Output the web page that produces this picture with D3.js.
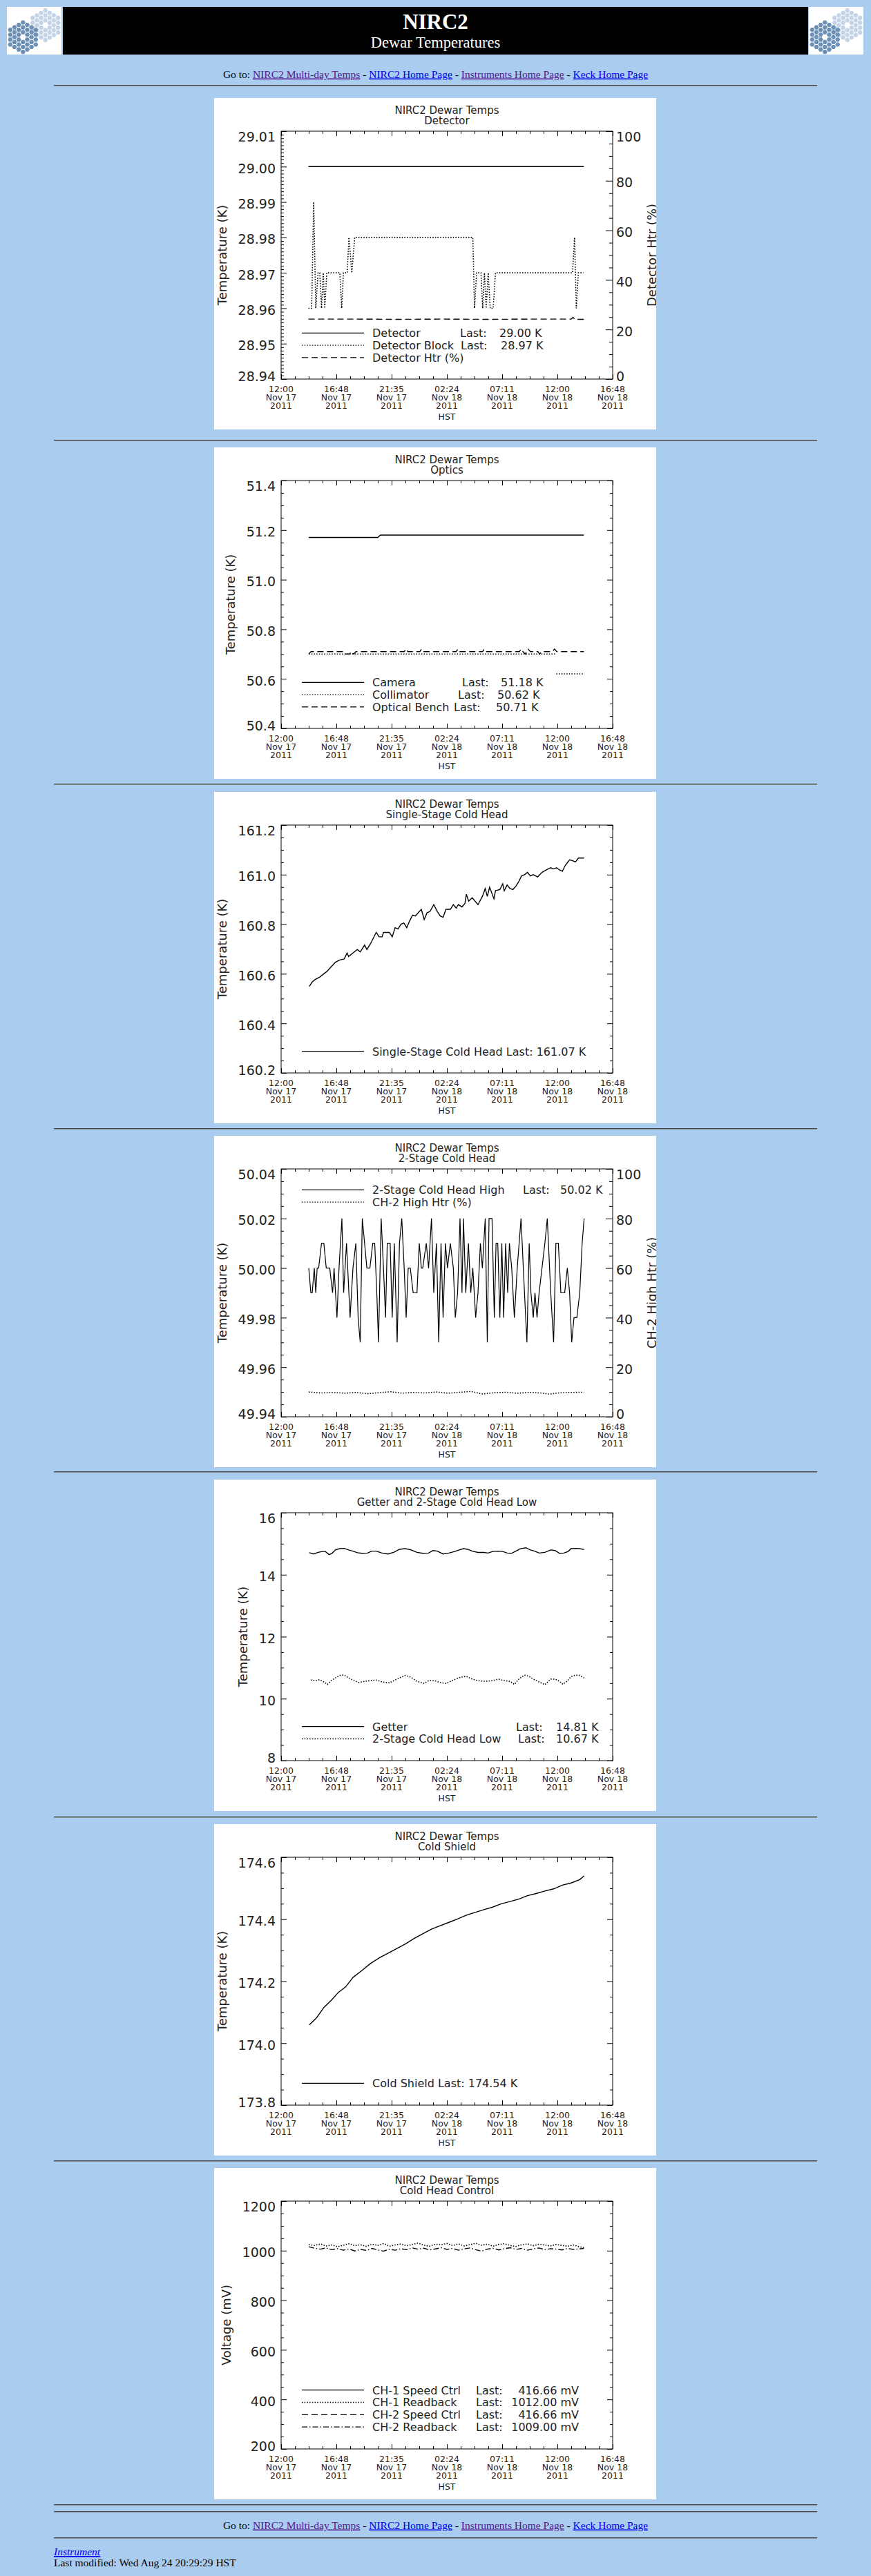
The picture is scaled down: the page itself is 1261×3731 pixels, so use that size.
<!DOCTYPE html>
<html>
<head>
<meta charset="utf-8">
<title>NIRC2 Dewar Temperatures</title>
<script src="https://d3js.org/d3.v7.min.js"></script>
<style>
body { margin: 0; background: #a9ccef; }
svg { display: block; }
.serif { font-family: "Liberation Serif", "Times New Roman", serif; }
.plot text { font-family: "DejaVu Sans", sans-serif; fill: #222; }
</style>
</head>
<body>
<svg id="page" width="1261" height="3731"></svg>
<script>
// every time value below is hours after 12:00 Nov 17 2011 HST (left edge of the time axes)
const START = new Date(2011, 10, 17, 12, 0, 0);
const at = h => new Date(START.getTime() + h * 3600 * 1000);

const timeTicks = [0, 4.8, 9.6, 14.4, 19.2, 24, 28.8];
const timeLabels = [
    ['12:00', 'Nov 17', '2011'], ['16:48', 'Nov 17', '2011'], ['21:35', 'Nov 17', '2011'],
    ['02:24', 'Nov 18', '2011'], ['07:11', 'Nov 18', '2011'], ['12:00', 'Nov 18', '2011'],
    ['16:48', 'Nov 18', '2011']];

const detectorTicks = [28.94, 28.95, 28.96, 28.97, 28.98, 28.99, 29.00, 29.01];
const heaterTicks = [0, 20, 40, 60, 80, 100];
const opticsTicks = [50.4, 50.6, 50.8, 51.0, 51.2, 51.4];
const singleStageTicks = [160.2, 160.4, 160.6, 160.8, 161.0, 161.2];
const twoStageTicks = [49.94, 49.96, 49.98, 50.00, 50.02, 50.04];
const getterTicks = [8, 10, 12, 14, 16];
const shieldTicks = [173.8, 174.0, 174.2, 174.4, 174.6];
const voltageTicks = [200, 400, 600, 800, 1000, 1200];

// series are [hour, value]
const detector = [[2.37, 29.00], [26.30, 29.00]];
const detectorBlock = [
    [2.37, 28.96], [2.65, 28.96], [2.83, 28.99], [3.01, 28.96], [3.21, 28.97], [3.36, 28.97],
    [3.51, 28.96], [3.66, 28.97], [3.79, 28.96], [3.97, 28.97], [5.10, 28.97], [5.26, 28.96],
    [5.41, 28.97], [5.74, 28.97], [5.89, 28.98], [6.14, 28.97], [6.39, 28.98], [16.65, 28.98],
    [16.80, 28.96], [16.98, 28.97], [17.36, 28.97], [17.51, 28.96], [17.66, 28.97], [17.81, 28.96],
    [17.99, 28.97], [18.16, 28.96], [18.42, 28.96], [18.62, 28.97], [25.31, 28.97], [25.49, 28.98],
    [25.64, 28.96], [25.82, 28.97], [26.25, 28.97]];
const detectorHtr = [
    [2.37, 24.2], [6.0, 24.2], [10.0, 24.1], [14.0, 24.2], [18.0, 24.1], [22.0, 24.2],
    [25.2, 24.2], [25.35, 24.9], [25.5, 24.1], [26.3, 24.1]];

const camera = [[2.40, 51.17], [8.40, 51.17], [8.62, 51.18], [26.30, 51.18]];
const collimator = [[2.40, 50.70], [23.80, 50.70], [23.85, null], [23.90, 50.62], [26.30, 50.62]];
const opticalBench = [
    [2.40, 50.70], [2.60, 50.71], [5.40, 50.71], [5.55, 50.70], [5.95, 50.70], [6.10, 50.71],
    [6.30, 50.70], [6.50, 50.71], [10.70, 50.71], [10.85, 50.72], [11.00, 50.71], [12.05, 50.71],
    [12.20, 50.72], [12.35, 50.71], [15.20, 50.71], [15.35, 50.72], [15.50, 50.71], [17.50, 50.71],
    [17.65, 50.72], [17.85, 50.71], [20.70, 50.71], [20.85, 50.72], [21.00, 50.71], [21.20, 50.70],
    [21.45, 50.72], [21.65, 50.71], [22.30, 50.71], [22.45, 50.70], [22.65, 50.71], [23.55, 50.71],
    [23.75, 50.72], [23.95, 50.71], [26.30, 50.71]];

const singleStage = [
    [2.45, 160.549], [2.70, 160.567], [2.96, 160.577], [3.33, 160.586], [3.71, 160.600],
    [3.97, 160.609], [4.35, 160.628], [4.72, 160.647], [5.10, 160.656], [5.48, 160.660],
    [5.73, 160.684], [5.86, 160.670], [6.24, 160.684], [6.62, 160.698], [6.87, 160.688],
    [7.25, 160.716], [7.45, 160.698], [7.76, 160.721], [8.01, 160.744], [8.26, 160.767],
    [8.51, 160.749], [8.77, 160.749], [8.89, 160.767], [9.40, 160.767], [9.65, 160.749],
    [9.90, 160.786], [10.16, 160.781], [10.41, 160.800], [10.66, 160.805], [10.91, 160.786],
    [11.17, 160.814], [11.42, 160.837], [11.67, 160.833], [11.92, 160.847], [12.18, 160.860],
    [12.43, 160.819], [12.68, 160.847], [12.93, 160.851], [13.26, 160.879], [13.57, 160.851],
    [13.82, 160.833], [14.07, 160.828], [14.32, 160.860], [14.70, 160.860], [14.96, 160.879],
    [15.21, 160.865], [15.39, 160.879], [15.71, 160.870], [15.97, 160.884], [16.09, 160.921],
    [16.29, 160.893], [16.60, 160.907], [17.10, 160.879], [17.48, 160.912], [17.73, 160.944],
    [17.91, 160.912], [18.11, 160.949], [18.49, 160.902], [18.62, 160.935], [19.00, 160.940],
    [19.25, 160.963], [19.38, 160.935], [19.63, 160.958], [19.88, 160.944], [20.13, 160.940],
    [20.39, 160.953], [20.64, 160.972], [20.89, 160.995], [21.14, 161.000], [21.40, 161.009],
    [21.65, 160.995], [21.90, 161.000], [22.28, 160.991], [22.66, 161.009], [23.04, 161.019],
    [23.42, 161.028], [23.67, 161.023], [23.92, 161.028], [24.18, 161.019], [24.43, 161.014],
    [24.68, 161.037], [25.06, 161.060], [25.31, 161.056], [25.57, 161.051], [25.82, 161.067],
    [26.32, 161.067]];

const twoStageHigh = [
    [2.40, 50.00], [2.58, 49.99], [2.70, 49.99], [2.88, 50.00], [3.01, 49.99], [3.13, 50.00],
    [3.26, 50.00], [3.51, 50.01], [3.71, 50.01], [3.92, 50.00], [4.22, 50.00], [4.47, 49.99],
    [4.60, 50.00], [4.85, 49.98], [5.03, 50.00], [5.28, 50.02], [5.43, 49.99], [5.68, 50.01],
    [5.99, 49.98], [6.24, 50.00], [6.49, 50.01], [6.69, 49.98], [6.87, 49.97], [7.05, 50.02],
    [7.25, 50.01], [7.45, 50.00], [7.71, 50.00], [7.96, 50.01], [8.13, 50.01], [8.31, 49.99],
    [8.46, 49.97], [8.69, 50.02], [8.89, 50.00], [9.07, 49.98], [9.22, 50.01], [9.47, 50.01],
    [9.65, 49.98], [9.83, 50.01], [10.08, 49.97], [10.28, 50.01], [10.48, 50.02], [10.69, 50.00],
    [10.86, 49.98], [11.04, 50.00], [11.22, 50.00], [11.47, 49.99], [11.62, 49.99], [11.80, 49.99],
    [12.00, 50.01], [12.18, 50.00], [12.30, 50.00], [12.61, 50.01], [12.81, 50.00], [13.06, 50.02],
    [13.26, 49.99], [13.49, 50.01], [13.69, 49.97], [13.89, 50.01], [14.07, 49.98], [14.27, 50.01],
    [14.45, 50.00], [14.70, 50.01], [14.96, 50.00], [15.13, 49.98], [15.33, 49.99], [15.54, 50.02],
    [15.71, 49.99], [15.84, 50.02], [16.04, 49.99], [16.27, 50.01], [16.47, 49.99], [16.65, 50.00],
    [16.90, 49.98], [17.10, 49.99], [17.31, 50.01], [17.48, 50.00], [17.73, 50.02], [17.91, 49.97],
    [18.06, 50.02], [18.32, 50.02], [18.52, 49.98], [18.67, 50.01], [18.82, 50.01], [19.00, 49.98],
    [19.17, 50.01], [19.33, 49.98], [19.50, 50.01], [19.68, 49.99], [19.83, 50.01], [20.03, 50.00],
    [20.26, 49.98], [20.51, 50.00], [20.84, 50.02], [21.14, 49.99], [21.35, 49.97], [21.55, 50.01],
    [21.70, 49.99], [21.90, 49.98], [22.05, 49.99], [22.23, 49.98], [22.41, 49.99], [22.66, 50.00],
    [22.91, 50.01], [23.12, 50.02], [23.42, 49.99], [23.67, 49.97], [23.87, 50.01], [24.08, 50.01],
    [24.30, 49.99], [24.63, 49.99], [24.86, 50.00], [25.06, 49.99], [25.24, 49.97], [25.44, 49.98],
    [25.69, 49.98], [25.94, 49.99], [26.15, 50.01], [26.32, 50.02]];
const ch2HighHtr = [
    [2.40, 10.0], [3.50, 9.6], [4.50, 9.8], [5.50, 9.5], [6.50, 9.8], [7.50, 9.3], [8.50, 9.7],
    [9.50, 10.1], [10.50, 9.5], [11.50, 9.8], [12.50, 9.6], [13.50, 10.0], [14.50, 9.5],
    [15.50, 9.9], [16.50, 10.2], [17.50, 9.2], [18.50, 9.7], [19.50, 9.9], [20.50, 9.5],
    [21.50, 9.8], [22.50, 9.6], [23.30, 9.1], [24.00, 9.6], [25.00, 9.8], [26.30, 9.9]];

const getter = [
    [2.45, 14.71], [2.83, 14.67], [3.21, 14.72], [3.59, 14.75], [3.84, 14.75], [4.17, 14.65],
    [4.42, 14.69], [4.72, 14.80], [5.10, 14.84], [5.48, 14.85], [5.86, 14.80], [6.24, 14.76],
    [6.62, 14.71], [7.00, 14.69], [7.50, 14.70], [7.88, 14.76], [8.26, 14.76], [8.77, 14.70],
    [9.27, 14.67], [9.78, 14.72], [10.28, 14.82], [10.79, 14.84], [11.29, 14.80], [11.80, 14.72],
    [12.30, 14.69], [12.81, 14.70], [13.19, 14.78], [13.57, 14.76], [14.07, 14.67], [14.58, 14.70],
    [15.08, 14.75], [15.46, 14.80], [15.84, 14.84], [16.22, 14.82], [16.60, 14.76], [17.10, 14.72],
    [17.61, 14.72], [17.99, 14.70], [18.37, 14.75], [18.87, 14.76], [19.25, 14.75], [19.63, 14.70],
    [20.01, 14.69], [20.39, 14.76], [20.77, 14.84], [21.27, 14.87], [21.65, 14.80], [22.03, 14.76],
    [22.41, 14.70], [22.91, 14.72], [23.42, 14.80], [23.80, 14.78], [24.18, 14.69], [24.56, 14.70],
    [24.93, 14.75], [25.19, 14.84], [25.57, 14.85], [25.94, 14.84], [26.32, 14.81]];
const twoStageLow = [
    [2.58, 10.60], [2.96, 10.58], [3.33, 10.61], [3.71, 10.54], [4.02, 10.46], [4.35, 10.58],
    [4.72, 10.67], [5.10, 10.75], [5.48, 10.76], [5.86, 10.67], [6.24, 10.60], [6.75, 10.52],
    [7.25, 10.56], [7.76, 10.58], [8.26, 10.60], [8.77, 10.54], [9.40, 10.51], [9.90, 10.60],
    [10.41, 10.69], [10.79, 10.75], [11.29, 10.69], [11.80, 10.56], [12.43, 10.49], [12.81, 10.58],
    [13.31, 10.58], [13.82, 10.52], [14.32, 10.49], [14.96, 10.60], [15.59, 10.69], [16.09, 10.72],
    [16.60, 10.63], [17.10, 10.58], [17.73, 10.56], [18.37, 10.58], [18.87, 10.63], [19.38, 10.58],
    [19.88, 10.56], [20.26, 10.46], [20.64, 10.63], [21.14, 10.76], [21.52, 10.72], [21.90, 10.63],
    [22.41, 10.54], [22.91, 10.45], [23.42, 10.63], [23.80, 10.63], [24.18, 10.56], [24.48, 10.46],
    [24.81, 10.56], [25.19, 10.71], [25.57, 10.76], [25.94, 10.75], [26.32, 10.67]];

const coldShield = [
    [2.45, 174.059], [3.08, 174.082], [3.71, 174.115], [4.35, 174.138], [4.98, 174.164],
    [5.61, 174.182], [6.24, 174.212], [7.00, 174.234], [7.76, 174.257], [8.51, 174.275],
    [9.27, 174.290], [10.03, 174.305], [10.79, 174.320], [11.55, 174.338], [12.30, 174.353],
    [13.06, 174.368], [13.82, 174.379], [14.58, 174.390], [15.33, 174.401], [16.09, 174.413],
    [16.85, 174.422], [17.61, 174.431], [18.37, 174.439], [19.12, 174.450], [19.88, 174.457],
    [20.64, 174.465], [21.40, 174.476], [22.16, 174.483], [22.91, 174.491], [23.67, 174.498],
    [24.43, 174.510], [25.19, 174.517], [25.94, 174.528], [26.32, 174.540]];

const controlHours = [
    2.4, 2.9, 3.4, 3.9, 4.4, 4.9, 5.4, 5.9, 6.4, 6.9, 7.4, 7.9, 8.4, 8.9, 9.4, 9.9, 10.4,
    10.9, 11.4, 11.9, 12.4, 12.9, 13.4, 13.9, 14.4, 14.9, 15.4, 15.9, 16.4, 16.9, 17.4, 17.9,
    18.4, 18.9, 19.4, 19.9, 20.4, 20.9, 21.4, 21.9, 22.4, 22.9, 23.4, 23.9, 24.4, 24.9, 25.4,
    25.9, 26.3];
const ch1Readback = [
    1025, 1021, 1027, 1019, 1023, 1016, 1022, 1028, 1020, 1024, 1017, 1026, 1021, 1029, 1018,
    1023, 1027, 1020, 1025, 1031, 1022, 1018, 1026, 1024, 1029, 1021, 1027, 1019, 1024, 1030,
    1022, 1026, 1018, 1025, 1028, 1021, 1017, 1024, 1027, 1020, 1026, 1023, 1019, 1025, 1021,
    1018, 1023, 1016, 1012];
const ch2Readback = [
    1016, 1010, 1006, 1011, 1004, 1008, 1002, 1007, 999, 1005, 1001, 1009, 1003, 998, 1006,
    1002, 1008, 1004, 1011, 1006, 1010, 1003, 1007, 1012, 1005, 1009, 1002, 1007, 1011, 1004,
    998, 1006, 1010, 1003, 1008, 1012, 1005, 1009, 1002, 1007, 1011, 1004, 1008, 1006, 1003,
    1009, 1005, 1007, 1009];

const navLinks = [
    {text: 'NIRC2 Multi-day Temps', visited: true},
    {text: 'NIRC2 Home Page', visited: false},
    {text: 'Instruments Home Page', visited: true},
    {text: 'Keck Home Page', visited: false}];

const dashes = {solid: null, dotted: '1.5,2.2', dashed: '9,5', dashdot: '8,3,1.5,3'};

const panels = [
    {title: 'Detector', yTicks: detectorTicks, yFormat: '.2f', yMinor: 10, yTitle: 'Temperature (K)',
     y2Ticks: heaterTicks, y2Format: 'd', y2Minor: 4, y2Title: 'Detector Htr (%)',
     series: [{data: detector, style: 'solid'}, {data: detectorBlock, style: 'dotted'},
              {data: detectorHtr, style: 'dashed', right: true}],
     legend: {top: 340.3, rows: [
         {name: 'Detector', style: 'solid', last: '29.00 K', lastX: 356, valX: 413},
         {name: 'Detector Block', style: 'dotted', last: '28.97 K', lastX: 357, valX: 415},
         {name: 'Detector Htr (%)', style: 'dashed'}]}},
    {title: 'Optics', yTicks: opticsTicks, yFormat: '.1f', yMinor: 4, yTitle: 'Temperature (K)',
     series: [{data: camera, style: 'solid'}, {data: collimator, style: 'dotted'},
              {data: opticalBench, style: 'dashed'}],
     legend: {top: 340.3, rows: [
         {name: 'Camera', style: 'solid', last: '51.18 K', lastX: 359, valX: 415},
         {name: 'Collimator', style: 'dotted', last: '50.62 K', lastX: 353, valX: 410},
         {name: 'Optical Bench', style: 'dashed', last: '50.71 K', lastX: 347, valX: 408}]}},
    {title: 'Single-Stage Cold Head', yTicks: singleStageTicks, yFormat: '.1f', yMinor: 4,
     yTitle: 'Temperature (K)',
     series: [{data: singleStage, style: 'solid'}],
     legend: {top: 375.7, rows: [
         {name: 'Single-Stage Cold Head Last: 161.07 K', style: 'solid'}]}},
    {title: '2-Stage Cold Head', yTicks: twoStageTicks, yFormat: '.2f', yMinor: 4, yTitle: 'Temperature (K)',
     y2Ticks: heaterTicks, y2Format: 'd', y2Minor: 4, y2Title: 'CH-2 High Htr (%)',
     series: [{data: twoStageHigh, style: 'solid', width: 1.2},
              {data: ch2HighHtr, style: 'dotted', right: true}],
     legend: {top: 78.3, rows: [
         {name: '2-Stage Cold Head High', style: 'solid', last: '50.02 K', lastX: 447, valX: 501},
         {name: 'CH-2 High Htr (%)', style: 'dotted'}]}},
    {title: 'Getter and 2-Stage Cold Head Low', yTicks: getterTicks, yFormat: 'd', yMinor: 4,
     yTitle: 'Temperature (K)',
     series: [{data: getter, style: 'solid'}, {data: twoStageLow, style: 'dotted'}],
     legend: {top: 357.7, rows: [
         {name: 'Getter', style: 'solid', last: '14.81 K', lastX: 437, valX: 495},
         {name: '2-Stage Cold Head Low', style: 'dotted', last: '10.67 K', lastX: 440, valX: 495}]}},
    {title: 'Cold Shield', yTicks: shieldTicks, yFormat: '.1f', yMinor: 4, yTitle: 'Temperature (K)',
     series: [{data: coldShield, style: 'solid'}],
     legend: {top: 375.3, rows: [
         {name: 'Cold Shield Last: 174.54 K', style: 'solid'}]}},
    {title: 'Cold Head Control', yTicks: voltageTicks, yFormat: 'd', yMinor: 4, yTitle: 'Voltage (mV)',
     series: [{data: controlHours.map((h, i) => [h, ch1Readback[i]]), style: 'dotted'},
              {data: controlHours.map((h, i) => [h, ch2Readback[i]]), style: 'dashdot'}],
     legend: {top: 321.7, rows: [
         {name: 'CH-1 Speed Ctrl', style: 'solid', last: '416.66 mV', lastX: 379, valX: 528, end: true},
         {name: 'CH-1 Readback', style: 'dotted', last: '1012.00 mV', lastX: 379, valX: 528, end: true},
         {name: 'CH-2 Speed Ctrl', style: 'dashed', last: '416.66 mV', lastX: 379, valX: 528, end: true},
         {name: 'CH-2 Readback', style: 'dashdot', last: '1009.00 mV', lastX: 379, valX: 528, end: true}]}}
];

// page layout
const panelX = 310;
const panelTops = [142, 648, 1147, 1645, 2143, 2642, 3140];
const ruleYs = [124, 638, 1136, 1635, 2132, 2632, 3130, 3628, 3638, 3676];
const box = {left: 97, right: 577, top: 48, bottom: 407};

const page = d3.select('#page');
const defs = page.append('defs');

function drawLogo(x0) {
    const g = page.append('g').attr('transform', `translate(${x0},10)`);
    defs.append('clipPath').attr('id', 'logo' + x0)
        .append('rect').attr('width', 79).attr('height', 69);
    g.attr('clip-path', `url(#logo${x0})`);
    g.append('rect').attr('width', 79).attr('height', 69).attr('fill', '#fff');
    const R = 4.1;
    const cells = [];
    for (let q = -3; q <= 3; q++)
        for (let r = -3; r <= 3; r++) {
            if (Math.abs(q + r) > 3 || (q === 0 && r === 0)) continue;
            cells.push([1.5 * R * q, Math.sqrt(3) * R * (r + q / 2)]);
        }
    const hex = d3.range(6).map(k => [(R - 0.55) * Math.cos(k * Math.PI / 3), (R - 0.55) * Math.sin(k * Math.PI / 3)]);
    const mirrors = [{cx: 55.7, cy: 26.5, fill: '#c4d4e6'}, {cx: 23.3, cy: 43.8, fill: '#6c90b6'}];
    mirrors.forEach(m => {
        g.append('g').attr('transform', `translate(${m.cx},${m.cy})`)
            .selectAll('path').data(cells).join('path')
            .attr('d', c => 'M' + hex.map(p => [c[0] + p[0], c[1] + p[1]].join(',')).join('L') + 'Z')
            .attr('fill', m.fill);
    });
}

function drawRule(y) {
    page.append('rect').attr('x', 78).attr('y', y - 1).attr('width', 1105).attr('height', 1).attr('fill', '#474747');
    page.append('rect').attr('x', 78).attr('y', y).attr('width', 1105).attr('height', 1).attr('fill', '#8c8c8c');
}

function drawNav(y) {
    const t = page.append('text').attr('class', 'serif')
        .attr('x', 630.5).attr('y', y)
        .attr('text-anchor', 'middle')
        .attr('font-size', 15.5)
        .style('white-space', 'pre');
    t.append('tspan').attr('fill', '#000').text('Go to: ');
    navLinks.forEach((l, i) => {
        if (i) t.append('tspan').attr('fill', '#000').text(' - ');
        t.append('a').attr('href', '#')
            .append('tspan')
            .attr('fill', l.visited ? '#551a8b' : '#0000ee')
            .style('text-decoration', 'underline')
            .text(l.text);
    });
}

function subTicks(ticks, n) {
    const out = [];
    for (let k = 0; k < ticks.length - 1; k++)
        for (let j = 1; j < n; j++)
            out.push(ticks[k] + (ticks[k + 1] - ticks[k]) * j / n);
    return out;
}

function tickAxis(g, axis, values, size, transform) {
    g.append('g').attr('transform', transform)
        .call(axis.tickValues(values).tickSize(size).tickFormat(''))
        .call(s => s.select('.domain').remove())
        .call(s => s.selectAll('text').remove())
        .selectAll('line').attr('stroke', '#000');
}

// labels of the first and last tick sit inside the box
function labelDy(pos) {
    if (pos - box.top < 3) return 14;
    if (box.bottom - pos < 3) return 2.5;
    return 9;
}

function drawPanel(p, i) {
    defs.append('clipPath').attr('id', 'clip' + i)
        .append('rect').attr('width', 640).attr('height', 480);
    const g = page.append('g')
        .attr('class', 'plot')
        .attr('transform', `translate(${panelX},${panelTops[i]})`)
        .attr('clip-path', `url(#clip${i})`);
    g.append('rect').attr('width', 640).attr('height', 480).attr('fill', '#fff');

    const x = d3.scaleTime().domain([at(0), at(28.8)]).range([box.left, box.right]);
    const y = d3.scaleLinear().domain(d3.extent(p.yTicks)).range([box.bottom, box.top]);
    const y2 = p.y2Ticks ? d3.scaleLinear().domain(d3.extent(p.y2Ticks)).range([box.bottom, box.top]) : null;

    // titles
    const cx = (box.left + box.right) / 2;
    g.append('text').attr('x', cx).attr('y', 23).attr('text-anchor', 'middle')
        .attr('font-size', 15).text('NIRC2 Dewar Temps');
    g.append('text').attr('x', cx).attr('y', 37.5).attr('text-anchor', 'middle')
        .attr('font-size', 15).text(p.title);

    // time ticks, bottom and top
    const major = timeTicks.map(at);
    const minor = subTicks(timeTicks, 4).map(at);
    tickAxis(g, d3.axisBottom(x), major, -7, `translate(0,${box.bottom})`);
    tickAxis(g, d3.axisBottom(x), minor, -4, `translate(0,${box.bottom})`);
    tickAxis(g, d3.axisTop(x), major, -7, `translate(0,${box.top})`);
    tickAxis(g, d3.axisTop(x), minor, -4, `translate(0,${box.top})`);

    // value ticks
    const yMinor = subTicks(p.yTicks, p.yMinor);
    tickAxis(g, d3.axisLeft(y), p.yTicks, -8, `translate(${box.left},0)`);
    tickAxis(g, d3.axisLeft(y), yMinor, -4, `translate(${box.left},0)`);
    if (y2) {
        tickAxis(g, d3.axisRight(y2), p.y2Ticks, -10, `translate(${box.right},0)`);
        tickAxis(g, d3.axisRight(y2), subTicks(p.y2Ticks, p.y2Minor), -5, `translate(${box.right},0)`);
    } else {
        tickAxis(g, d3.axisRight(y), p.yTicks, -8, `translate(${box.right},0)`);
        tickAxis(g, d3.axisRight(y), yMinor, -4, `translate(${box.right},0)`);
    }

    g.append('rect')
        .attr('x', box.left).attr('y', box.top)
        .attr('width', box.right - box.left).attr('height', box.bottom - box.top)
        .attr('fill', 'none').attr('stroke', '#000').attr('stroke-width', 1);

    // tick labels
    const ly = g.append('g').attr('transform', `translate(${box.left},0)`)
        .call(d3.axisLeft(y).tickValues(p.yTicks).tickSize(0).tickPadding(8).tickFormat(d3.format(p.yFormat)));
    ly.select('.domain').remove();
    ly.selectAll('text').attr('font-size', 19).attr('dy', d => labelDy(y(d)));
    const lb = ly.node().getBBox();
    g.append('text')
        .attr('transform', `translate(${box.left + lb.x - 17},${(box.top + box.bottom) / 2}) rotate(-90)`)
        .attr('text-anchor', 'middle').attr('font-size', 18).text(p.yTitle);

    if (y2) {
        const ry = g.append('g').attr('transform', `translate(${box.right},0)`)
            .call(d3.axisRight(y2).tickValues(p.y2Ticks).tickSize(0).tickPadding(5).tickFormat(d3.format(p.y2Format)));
        ry.select('.domain').remove();
        ry.selectAll('text').attr('font-size', 19).attr('dy', d => labelDy(y2(d)));
        const rb = ry.node().getBBox();
        g.append('text')
            .attr('transform', `translate(${box.right + rb.x + rb.width + 22},${(box.top + box.bottom) / 2}) rotate(-90)`)
            .attr('text-anchor', 'middle').attr('font-size', 18).text(p.y2Title);
    }

    const xl = g.append('g').selectAll('text')
        .data(timeTicks.map((h, k) => ({h, lines: timeLabels[k]})))
        .join('text')
        .attr('text-anchor', 'middle')
        .attr('font-size', 12.5);
    xl.selectAll('tspan').data(d => d.lines.map(s => ({s, h: d.h}))).join('tspan')
        .attr('x', d => x(at(d.h)))
        .attr('y', (d, k) => 426 + 12 * k)
        .text(d => d.s);
    g.append('text').attr('x', cx).attr('y', 466).attr('text-anchor', 'middle')
        .attr('font-size', 12.5).text('HST');

    // data
    p.series.forEach(s => {
        const sy = s.right ? y2 : y;
        const line = d3.line()
            .defined(d => d[1] !== null)
            .x(d => x(at(d[0])))
            .y(d => sy(d[1]));
        g.append('path').datum(s.data)
            .attr('d', line)
            .attr('fill', 'none')
            .attr('stroke', '#000')
            .attr('stroke-width', s.width || (s.style === 'dotted' ? 1.6 : 1.4))
            .attr('stroke-dasharray', dashes[s.style]);
    });

    // legend
    p.legend.rows.forEach((r, k) => {
        const ly0 = p.legend.top + k * 17.8;
        g.append('line')
            .attr('x1', 127).attr('x2', 217).attr('y1', ly0).attr('y2', ly0)
            .attr('stroke', '#000').attr('stroke-width', 1.3)
            .attr('stroke-dasharray', dashes[r.style]);
        g.append('text').attr('x', 229).attr('y', ly0 + 5.8).attr('font-size', 16).text(r.name);
        if (r.last) {
            g.append('text').attr('x', r.lastX).attr('y', ly0 + 5.8).attr('font-size', 16).text('Last:');
            g.append('text').attr('x', r.valX).attr('y', ly0 + 5.8).attr('font-size', 16)
                .attr('text-anchor', r.end ? 'end' : 'start').text(r.last);
        }
    });
}

// header
drawLogo(10);
drawLogo(1171);
page.append('rect').attr('x', 91).attr('y', 10).attr('width', 1079).attr('height', 69).attr('fill', '#000');
page.append('text').attr('class', 'serif').attr('x', 630.5).attr('y', 42)
    .attr('text-anchor', 'middle').attr('font-size', 31).attr('font-weight', 'bold')
    .attr('fill', '#fff').text('NIRC2');
page.append('text').attr('class', 'serif').attr('x', 630.5).attr('y', 69)
    .attr('text-anchor', 'middle').attr('font-size', 22.5)
    .attr('fill', '#fff').text('Dewar Temperatures');

drawNav(112.5);
ruleYs.forEach(drawRule);
panels.forEach(drawPanel);
drawNav(3662.5);

const foot = page.append('g').attr('class', 'serif');
foot.append('a').attr('href', '#').append('text')
    .attr('class', 'serif').attr('x', 78).attr('y', 3701)
    .attr('font-size', 15.5).attr('font-style', 'italic')
    .attr('fill', '#0000ee').style('text-decoration', 'underline')
    .text('Instrument');
foot.append('text').attr('class', 'serif').attr('x', 78).attr('y', 3717)
    .attr('font-size', 15.5).attr('fill', '#000')
    .text('Last modified: Wed Aug 24 20:29:29 HST');
</script>
</body>
</html>
